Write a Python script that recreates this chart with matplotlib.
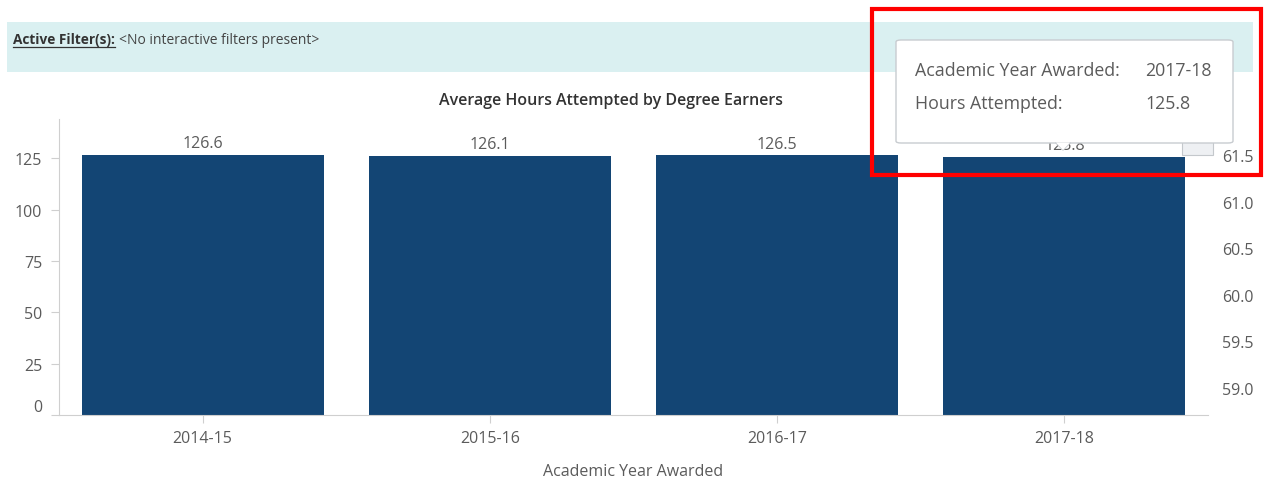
import matplotlib.pyplot as plt
from matplotlib.patches import Rectangle, FancyBboxPatch, Polygon
from matplotlib.lines import Line2D

plt.rcParams['font.family'] = ['Open Sans', 'DejaVu Sans']

years = ['2014-15', '2015-16', '2016-17', '2017-18']
hours = [126.6, 126.1, 126.5, 125.8]
y_ticks = [0, 25, 50, 75, 100, 125]
right_ticks = [59.0, 59.5, 60.0, 60.5, 61.0, 61.5]
right_labels = ['59.0', '59.5', '60.0', '60.5', '61.0', '61.5']
tip_year = '2017-18'
tip_hours = 125.8

W, H = 1265, 481
fig = plt.figure(figsize=(W / 100, H / 100), dpi=100)
fig.patch.set_facecolor('white')

def fx(px):
    return px / W

def fy(py):
    return 1 - py / H

grey = '#5b5b5b'
edge = '#cfcfcf'
fs = 11.5

# filter banner
fig.patches.append(Rectangle((fx(7), fy(73)), fx(1253) - fx(7), fy(23) - fy(73),
                             transform=fig.transFigure, facecolor='#daf0f1',
                             edgecolor='none', zorder=0))
t = fig.text(fx(13), fy(40), 'Active Filter(s):', fontsize=9.8, fontweight='bold',
             color='#333333', va='center', ha='left')
fig.canvas.draw()
bb = t.get_window_extent()
fig.lines.append(Line2D([bb.x0 / W, bb.x1 / W], [fy(48), fy(48)],
                        transform=fig.transFigure, color='#333333', lw=0.9))
fig.text((bb.x1 + 4) / W, fy(40), '<No interactive filters present>', fontsize=10,
         color='#444444', va='center', ha='left')

# main axes
ax = fig.add_axes([fx(59), fy(416), fx(1208) - fx(59), fy(120) - fy(416)])
x = range(len(years))
ax.bar(x, hours, width=0.842, color='#134574', zorder=2)
for xi, v in zip(x, hours):
    ax.text(xi, v + 1.8, f'{v:.1f}', ha='center', va='bottom', fontsize=fs, color=grey)

ax.set_xlim(-0.5, 3.5)
ax.set_ylim(0, 144.2)
ax.set_xticks(list(x))
ax.set_xticklabels(years)
ax.set_yticks(y_ticks)
ax.tick_params(axis='both', colors=edge, labelcolor=grey, labelsize=fs, length=6)
ax.tick_params(axis='y', pad=6)
ax.tick_params(axis='x', pad=5)
ax.yaxis.get_major_ticks()[0].label1.set_verticalalignment('bottom')
for s in ['top', 'right']:
    ax.spines[s].set_visible(False)
ax.spines['left'].set_color(edge)
ax.spines['bottom'].set_color(edge)
ax.set_xlabel('Academic Year Awarded', fontsize=fs, color=grey, labelpad=12)
fig.text(fx(611), fy(101), 'Average Hours Attempted by Degree Earners', fontsize=11.5,
         fontweight='semibold', color='#333333', ha='center', va='center')

ax2 = ax.twinx()
ax2.set_ylim(58.71, 61.886)
ax2.set_yticks(right_ticks)
ax2.set_yticklabels(right_labels)
ax2.tick_params(axis='y', length=0, pad=10, labelcolor=grey, labelsize=fs)
for s in ax2.spines.values():
    s.set_visible(False)

# dashboard container clips the right-hand labels
fig.patches.append(Rectangle((fx(1253), 0), 1 - fx(1253), fy(118),
                             transform=fig.transFigure, facecolor='white',
                             edgecolor='none', zorder=2))

# small grey button under the tooltip
fig.patches.append(Rectangle((fx(1182), fy(156)), fx(1213) - fx(1182), fy(138) - fy(156),
                             transform=fig.transFigure, facecolor='#eef0f3',
                             edgecolor='#c4c8cc', lw=0.8, zorder=3))

# tooltip
fig.patches.append(FancyBboxPatch((fx(896), fy(144)), fx(1233) - fx(896), fy(41) - fy(144),
                                  boxstyle='round,pad=0,rounding_size=0.004',
                                  transform=fig.transFigure, facecolor='white',
                                  edgecolor='#c8ccd0', lw=1, zorder=4))
fig.patches.append(Polygon([(fx(1056), fy(143.5)), (fx(1070), fy(143.5)), (fx(1063), fy(151))],
                           closed=True, transform=fig.transFigure, facecolor='white',
                           edgecolor='none', zorder=5))
fig.lines.append(Line2D([fx(1056), fx(1063), fx(1070)], [fy(144), fy(151), fy(144)],
                        transform=fig.transFigure, color='#c8ccd0', lw=1, zorder=5))
fig.text(fx(915), fy(71), 'Academic Year Awarded:', fontsize=12.8, color=grey,
         va='center', zorder=6)
fig.text(fx(1145), fy(71), tip_year, fontsize=12.8, color=grey, va='center', zorder=6)
fig.text(fx(915), fy(104), 'Hours Attempted:', fontsize=12.8, color=grey,
         va='center', zorder=6)
fig.text(fx(1145), fy(104), f'{tip_hours:.1f}', fontsize=12.8, color=grey,
         va='center', zorder=6)

# red highlight frame
fig.patches.append(Rectangle((fx(872), fy(176)), fx(1261) - fx(872), fy(10) - fy(176),
                             transform=fig.transFigure, facecolor='none',
                             edgecolor='#ff0000', lw=3, zorder=7))

fig.savefig('out.png', dpi=100)
